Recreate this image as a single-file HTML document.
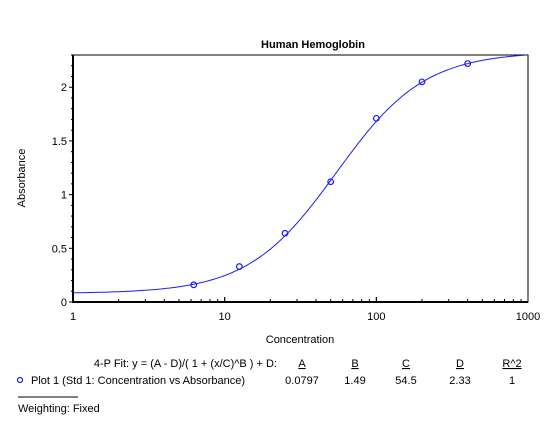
<!DOCTYPE html>
<html><head><meta charset="utf-8"><style>
body{margin:0;background:#fff;font-family:"Liberation Sans",Arial,sans-serif;}
svg text{font-family:"Liberation Sans",Arial,sans-serif;font-size:11px;fill:#000}
</style></head><body>
<svg id="c" width="555" height="426">
<defs><clipPath id="clip"><rect x="73" y="55" width="455" height="247"/></clipPath></defs>
</svg>
<script>
const concentrations=[6.25,12.5,25,50,100,200,400];
const absorbances=[0.16,0.33,0.64,1.12,1.71,2.05,2.22];
const fitParams=[0.0797,1.49,54.5,2.33];
const xTickLabels=["1","10","100","1000"];
const yTickLabels=["0","0.5","1","1.5","2"];
const L=73,R=528,T=55,B=302,YMAX=2.3;
const sx=v=>L+(Math.log10(v)-0)/3*(R-L);
const sy=v=>B-v/YMAX*(B-T);
const svg=document.getElementById('c');const NS='http://www.w3.org/2000/svg';
function add(tag,attrs,txt,name){const e=document.createElementNS(NS,tag);for(const k in attrs)e.setAttribute(k,attrs[k]);if(txt!=null)e.textContent=txt;


svg.appendChild(e);return e;}
add('text',{x:313,y:48,'text-anchor':'middle','font-weight':'bold','font-size':'12'},'Human Hemoglobin','chart-title');
add('rect',{x:L,y:T,width:R-L,height:B-T,fill:'none',stroke:'#000','stroke-width':1},null,'plot-frame');
add('line',{x1:L,y1:T,x2:L,y2:B+1,stroke:'#000','stroke-width':2},null,'y-axis');
add('line',{x1:L,y1:B,x2:R,y2:B,stroke:'#000','stroke-width':2},null,'x-axis');
for(let i=0;i<=23;i++){const v=i/10;const y=sy(v);const maj=i%5==0;
add('line',{x1:L-(maj?4:2),y1:y,x2:L,y2:y,stroke:'#000'},null,'y-tick');}
yTickLabels.forEach(t=>add('text',{x:L-6,y:sy(+t)+4,'text-anchor':'end'},t,'y-tick-label'));
for(let d=0;d<3;d++)for(let m=1;m<=10;m++){const v=Math.pow(10,d)*m;const x=sx(v);const maj=(m==1||m==10);
add('line',{x1:x,y1:B,x2:x,y2:B-(maj?5:3),stroke:'#000'},null,'x-tick');}
xTickLabels.forEach(t=>add('text',{x:sx(+t),y:B+18,'text-anchor':'middle'},t,'x-tick-label'));
add('text',{x:300,y:343,'text-anchor':'middle'},'Concentration','x-axis-title');
add('text',{x:0,y:0,'text-anchor':'middle',transform:'translate(25,178) rotate(-90)'},'Absorbance','y-axis-title');
const [A,Bp,C,D]=fitParams;let d='';
for(let i=0;i<=300;i++){const lx=i/100;const v=Math.pow(10,lx);const y=(A-D)/(1+Math.pow(v/C,Bp))+D;d+=(i?'L':'M')+sx(v).toFixed(1)+','+sy(y).toFixed(1);}
add('path',{d:d,fill:'none',stroke:'#1a1aff','stroke-width':1,'clip-path':'url(#clip)'},null,'fit-curve');
concentrations.forEach((c,i)=>add('circle',{cx:sx(c),cy:sy(absorbances[i]),r:2.8,fill:'none',stroke:'#1a1aff','stroke-width':1.2},null,'data-point'));
add('text',{x:277,y:367,'text-anchor':'end'},'4-P Fit:  y = (A - D)/( 1 + (x/C)^B ) + D:','fit-equation');
const hx=[302,355,406,460,512],hs=['A','B','C','D','R^2'],vs=['0.0797','1.49','54.5','2.33','1'];
hs.forEach((h,i)=>{add('text',{x:hx[i],y:367,'text-anchor':'middle','text-decoration':'underline'},h,'param-header');
add('text',{x:hx[i],y:384,'text-anchor':'middle'},vs[i],'param-value');});
add('circle',{cx:20,cy:380,r:2.5,fill:'none',stroke:'#1a1aff','stroke-width':1.2},null,'legend-marker');
add('text',{x:31,y:384},'Plot 1 (Std 1: Concentration vs Absorbance)','legend-label');
add('line',{x1:18,y1:397,x2:78,y2:397,stroke:'#000'},null,'separator');
add('text',{x:18,y:412},'Weighting: Fixed','weighting-label');
</script>
</body></html>
